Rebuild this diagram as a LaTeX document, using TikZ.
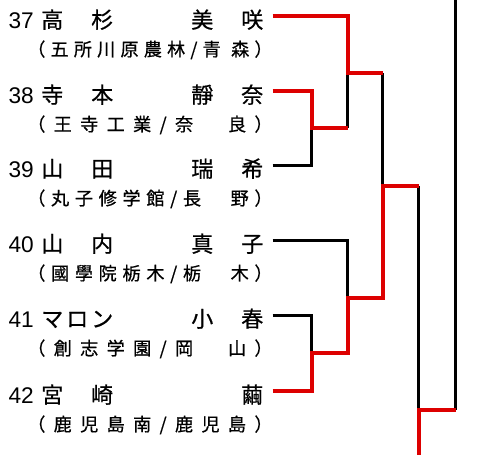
\documentclass[tikz,border=0pt]{standalone}
\usepackage{fontspec}
\setmainfont{Liberation Sans}
\newfontfamily\jpfont[FakeBold=0.7]{Noto Sans CJK JP}
\usetikzlibrary{positioning}
\definecolor{winred}{RGB}{221,0,0}

% fixed slots for the player names, spread text for the schools
\newcommand\nameslots[1]{\makebox[173.25pt][l]{\foreach \ch in {#1}{\makebox[18.75pt][l]{\ch}}}}
\newcommand\affspread[1]{\makebox[184pt][s]{\gdef\affsep{}\foreach \ch in {#1}{\affsep\ch\gdef\affsep{\hfill}}}}

\begin{document}
\begin{tikzpicture}[
		x=0.75pt,y=-0.75pt,
		seed/.style={font=\fontsize{17pt}{17pt}\selectfont,inner sep=0pt,anchor=base east},
		player/.style={font=\jpfont\fontsize{16.5pt}{16.5pt}\selectfont,inner sep=0pt,
			text height=18pt,text depth=0pt,anchor=west},
		school/.style={font=\jpfont\fontsize{13.6pt}{13.6pt}\selectfont,inner sep=0pt,anchor=base west},
		lose line/.style={line width=2.25pt,black},
		win line/.style={line width=3pt,winred}
	]
		\useasboundingbox (0,0) rectangle (480,455);

		% Players with their schools.
		\node[seed] (s37) at (34,28) {37};
		\node[player] (p37) at (41,16) {\nameslots{高,{},杉,{},{},{},美,{},咲}};
		\node[school] (a37) at (27,56) {\affspread{（,五,所,川,原,農,林,/,青,{},森,）}};

		\node[seed] (s38) at (34,103) {38};
		\node[player] (p38) at (41,91) {\nameslots{寺,{},本,{},{},{},靜,{},奈}};
		\node[school] (a38) at (27,131) {\affspread{（,王,寺,工,業,/,奈,　,良,）}};

		\node[seed] (s39) at (34,177) {39};
		\node[player] (p39) at (41,165) {\nameslots{山,{},田,{},{},{},瑞,{},希}};
		\node[school] (a39) at (27,205) {\affspread{（,丸,子,修,学,館,/,長,　,野,）}};

		\node[seed] (s40) at (34,252) {40};
		\node[player] (p40) at (41,240) {\nameslots{山,{},内,{},{},{},真,{},子}};
		\node[school] (a40) at (27,280) {\affspread{（,國,學,院,栃,木,/,栃,　,木,）}};

		\node[seed] (s41) at (34,327) {41};
		\node[player] (p41) at (41,315) {\nameslots{マ,ロ,ン,{},{},{},小,{},春}};
		\node[school] (a41) at (27,355) {\affspread{（,創,志,学,園,/,岡,　,山,）}};

		\node[seed] (s42) at (34,403) {42};
		\node[player] (p42) at (41,391) {\nameslots{宮,{},崎,{},{},{},{},{},繭}};
		\node[school] (a42) at (27,431) {\affspread{（,鹿,児,島,南,/,鹿,児,島,）}};

		% Bracket junctions.
		\coordinate (r1) at (348,73);
		\coordinate (r2) at (312,128);
		\coordinate (r3) at (383,186);
		\coordinate (r4) at (348,298);
		\coordinate (r5) at (312,353);
		\coordinate (r6) at (419,410);
		\coordinate (t0) at (456,0);
		\coordinate (b0) at (419,455);

		% Losing lines first, winning lines on top.
		\draw[lose line] (p39.east) -| (r2);
		\draw[lose line] (r1 |- r2) -- (r1);
		\draw[lose line] (r3 |- r1) -- (r3);
		\draw[lose line] (p40.east) -| (r4);
		\draw[lose line] (p41.east) -| (r5);
		\draw[lose line] (r6 |- r3) -- (r6);
		\draw[lose line] (t0) -- (t0 |- r6);

		\draw[win line] (p37.east) -| (r1) -- (r3 |- r1);
		\draw[win line] (p38.east) -| (r2) -- (r1 |- r2);
		\draw[win line] (p42.east) -| (r5) -- (r4 |- r5) -- (r4) -- (r3 |- r4) -- (r3) -- (r6 |- r3);
		\draw[win line] (t0 |- r6) -- (r6) -- (b0);
	\end{tikzpicture}
\end{document}
